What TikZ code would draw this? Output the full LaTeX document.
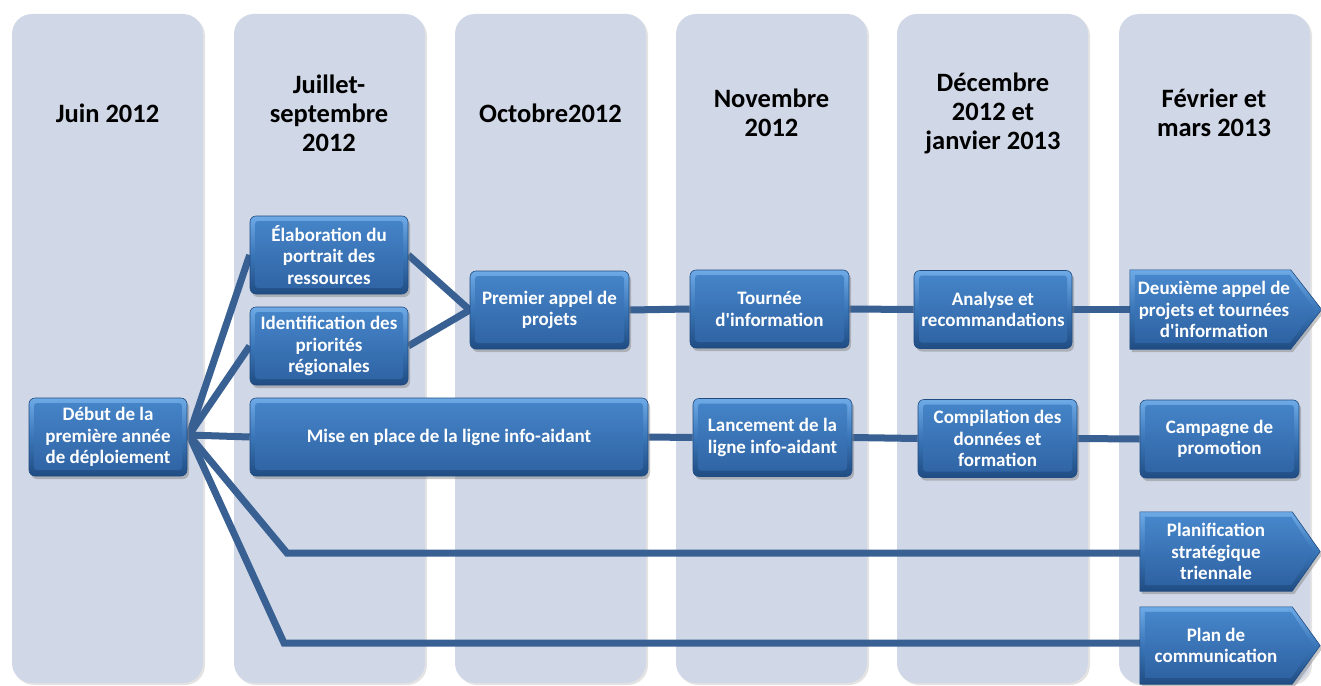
\documentclass[tikz,border=0pt]{standalone}
\usepackage{fontspec}
\setmainfont{Carlito}[Ligatures=TeXOff]
\usetikzlibrary{shadows,calc}
\pgfdeclarelayer{cols}\pgfdeclarelayer{conn}\pgfdeclarelayer{boxes}
\pgfsetlayers{cols,conn,boxes,main}
\definecolor{colfill}{RGB}{208,215,230}
\definecolor{conncol}{RGB}{57,96,146}
\definecolor{boxtop}{RGB}{110,170,230}
\definecolor{boxmid}{RGB}{58,118,184}
\definecolor{boxbot}{RGB}{32,76,130}
\definecolor{boxin1}{RGB}{70,134,202}
\definecolor{boxin2}{RGB}{46,98,162}
\tikzset{
  colbg/.style={fill=colfill, rounded corners=20pt,
    drop shadow={opacity=0.22,shadow xshift=2pt,shadow yshift=-2pt}},
  hdr/.style={font=\bfseries\fontsize{26.5}{29}\selectfont, align=center, text=black, inner sep=0pt},
  boxfont/.style={text=white, font=\bfseries\fontsize{19}{21.5}\selectfont, align=center, inner sep=0pt},
  bluebox/.style={boxfont, rounded corners=6pt,
    top color=boxtop, bottom color=boxbot, middle color=boxmid,
    draw=boxbot, line width=0.6pt, minimum height=78pt,
    drop shadow={opacity=0.45,shadow xshift=2pt,shadow yshift=-3pt},
    path picture={\shade[top color=boxin1,bottom color=boxin2,rounded corners=3pt]
      ([xshift=5pt,yshift=-5pt]path picture bounding box.north west) rectangle
      ([xshift=-5pt,yshift=6pt]path picture bounding box.south east);}},
  arrowtext/.style={boxfont, minimum height=79pt},
  arrowbody/.style={top color=boxtop, bottom color=boxbot, middle color=boxmid,
    draw=boxbot, line width=0.6pt,
    drop shadow={opacity=0.45,shadow xshift=2pt,shadow yshift=-3pt}},
  arrowinner/.style={top color=boxin1, bottom color=boxin2},
  conn/.style={draw=conncol, line width=7pt},
}
\begin{document}
\begin{tikzpicture}[x=1pt,y=-1pt]
\useasboundingbox (0,0) rectangle (1321,685);
% columns
\begin{pgfonlayer}{cols}
\foreach \l in {12,234,455,676,897,1119}{
  \fill[colbg] (\l,14) rectangle ({\l+191},683);
}
\end{pgfonlayer}
% headers
\node[hdr] (h1) at (107.5,113) {Juin 2012};
\node[hdr] (h2) at (329,113) {Juillet-\\septembre\\2012};
\node[hdr] (h3) at (550.5,113) {Octobre2012};
\node[hdr] (h4) at (771.5,113) {Novembre\\2012};
\node[hdr] (h5) at (993,113) {Décembre\\2012 et\\janvier 2013};
\node[hdr] (h6) at (1214,113) {Février et\\mars 2013};
% boxes
\node[bluebox, minimum width=158pt] (debut) at (108,437) {Début de la\\première année\\de déploiement};
\node[bluebox, minimum width=158pt] (elab) at (329,255) {Élaboration du\\portrait des\\ressources};
\node[bluebox, minimum width=158pt] (ident) at (329,346) {Identification des\\priorités\\régionales};
\node[bluebox, minimum width=159pt] (premier) at (549.5,310) {Premier appel de\\projets};
\node[bluebox, minimum width=159pt] (tournee) at (769.5,309) {Tournée\\d'information};
\node[bluebox, minimum width=158pt] (analyse) at (993,309.5) {Analyse et\\recommandations};
\node[bluebox, minimum width=398pt] (mise) at (449,437) {Mise en place de la ligne info-aidant};
\node[bluebox, minimum width=159pt] (lance) at (772.5,437.5) {Lancement de la\\ligne info-aidant};
\node[bluebox, minimum width=159pt] (compil) at (997.5,438.5) {Compilation des\\données et\\formation};
\node[bluebox, minimum width=159pt] (campagne) at (1219.5,439) {Campagne de\\promotion};
% arrow-shaped boxes
\node[arrowtext, minimum width=153pt] (deux) at (1214,309.5) {Deuxième appel de\\projets et tournées\\d'information};
\node[arrowtext, minimum width=152pt] (planif) at (1216,551.5) {Planification\\stratégique\\triennale};
\node[arrowtext, minimum width=152pt, minimum height=77pt] (pcomm) at (1216,645.5) {Plan de\\communication};
\begin{pgfonlayer}{boxes}
\foreach \n/\e/\t in {deux/7.5/31,planif/0/28,pcomm/0/28}{
  \shade[arrowbody] ($(\n.north west)+(-\e,0)$) -- (\n.north east) -- ($(\n.east)+(\t,0)$)
    -- (\n.south east) -- ($(\n.south west)+(-\e,0)$) -- cycle;
  \shade[arrowinner] ($(\n.north west)+(5-\e,5)$) -- ($(\n.north east)+(-1,5)$)
    -- ($(\n.east)+(\t-7,0)$) -- ($(\n.south east)+(-1,-6)$)
    -- ($(\n.south west)+(5-\e,-6)$) -- cycle;
}
\end{pgfonlayer}
% connectors
\coordinate (hub) at (189,435);
\coordinate (b1) at (287,553);
\coordinate (b2) at (284,643);
\coordinate (deuxin) at ($(deux.west)+(-7.5,0)$);
\begin{pgfonlayer}{conn}
\draw[conn] (hub) -- (elab.west);
\draw[conn] (hub) -- (ident.west);
\draw[conn] (hub) -- (mise.west);
\draw[conn] (hub) -- (b1) -- (b1 -| planif.west);
\draw[conn] (hub) -- (b2) -- (b2 -| pcomm.west);
\draw[conn] (debut.east) -- (hub);
\draw[conn] (elab.east) -- (premier.west);
\draw[conn] (ident.east) -- (premier.west);
\draw[conn] (premier.east) -- (tournee.west);
\draw[conn] (tournee.east) -- (analyse.west);
\draw[conn] (analyse.east) -- (deuxin);
\draw[conn] (mise.east) -- (lance.west);
\draw[conn] (lance.east) -- (compil.west);
\draw[conn] (compil.east) -- (campagne.west);
\end{pgfonlayer}
\end{tikzpicture}
\end{document}
